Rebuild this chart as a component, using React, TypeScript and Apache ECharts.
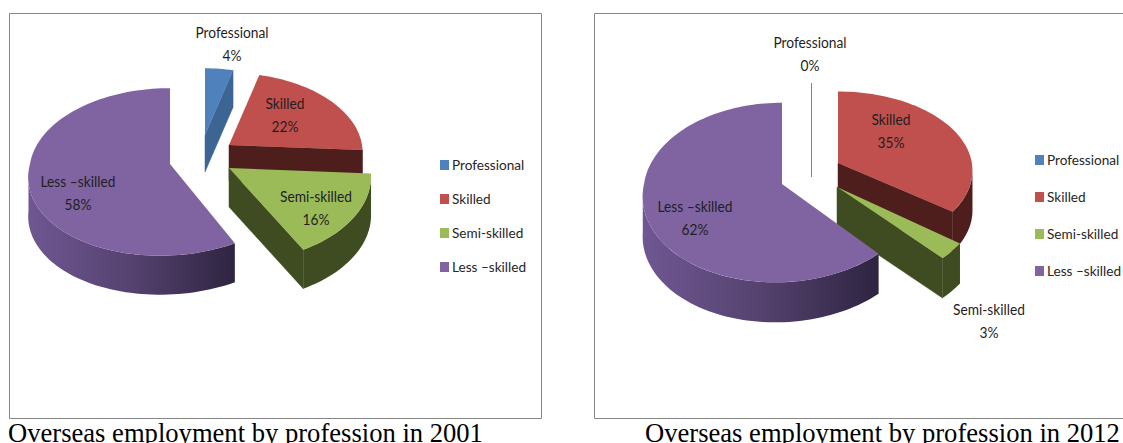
import React, { useEffect, useRef } from "react";
import * as echarts from "echarts";

const categories = ["Professional", "Skilled", "Semi-skilled", "Less –skilled"];
const values2001 = [4, 22, 16, 58];
const values2012 = [0, 35, 3, 62];
const caption2001 = "Overseas employment by profession in 2001";
const caption2012 = "Overseas employment by profession in 2012";

const topColors = ["#4f81bd", "#c0504d", "#9bbb59", "#8064a2"];
const wallColors = ["#3d6594", "#4d1e1c", "#3f4c22", "#8064a2"];
const drawOrder = [1, 2, 3, 0];
const labelFont = "Lato";

const K = 0.095;
const SILHOUETTE = (Math.acos(-K) * 180) / Math.PI;

type SliceLayout = { ax: number; ay: number; s: number; sy: number; depth: number; skew: number; lx: number; ly: number };
type Panel = { R: number; b: number; values: number[]; slices: SliceLayout[] };

const panels: Panel[] = [
  {
    R: 140, b: 83, values: values2001,
    slices: [
      { ax: 205, ay: 135, s: 0.88, sy: 0.88, depth: 37, skew: 0, lx: 232, ly: 32 },
      { ax: 229, ay: 145, s: 0.95, sy: 0.95, depth: 36, skew: 0, lx: 285, ly: 103 },
      { ax: 229, ay: 168, s: 1.01, sy: 1.03, depth: 39, skew: 0, lx: 316, ly: 196 },
      { ax: 170, ay: 164, s: 1, sy: 1, depth: 39, skew: 0.11, lx: 78, ly: 181 },
    ],
  },
  {
    R: 138, b: 89, values: values2012,
    slices: [
      { ax: 811.5, ay: 140, s: 0.7, sy: 0.7, depth: 37, skew: 0, lx: 810, ly: 42 },
      { ax: 838, ay: 163, s: 0.97, sy: 0.88, depth: 40, skew: 0, lx: 891, ly: 119 },
      { ax: 837, ay: 187, s: 1.04, sy: 1.02, depth: 40, skew: 0, lx: 989, ly: 309 },
      { ax: 782, ay: 184, s: 1, sy: 1, depth: 40, skew: 0.07, lx: 695, ly: 206 },
    ],
  },
];

const rim = (p: Panel, l: SliceLayout, deg: number, dy = 0): number[] => {
  const t = (deg * Math.PI) / 180;
  const w = 1 + K * Math.cos(t);
  const yy = -(l.sy * p.b * Math.cos(t)) / w;
  return [l.ax + (l.s * p.R * Math.sin(t)) / w - l.skew * Math.max(0, yy), l.ay + yy + dy];
};

const arc = (p: Panel, l: SliceLayout, a: number, b: number, dy = 0): number[][] => {
  const out: number[][] = [];
  const n = Math.max(1, Math.ceil(Math.abs(b - a) / 2));
  for (let i = 0; i <= n; i++) out.push(rim(p, l, a + ((b - a) * i) / n, dy));
  return out;
};

const makeSeries = (p: Panel, idx: number, order: number) => ({
  type: "custom",
  name: categories[idx],
  coordinateSystem: "none",
  silent: true,
  z: 2 + order,
  clip: false,
  itemStyle: { color: topColors[idx] },
  data: [[p.values[idx]]],
  renderItem: (_: any, api: any) => {
    const value = api.value(0) as number;
    const total = p.values.reduce((a, v) => a + v, 0);
    const before = p.values.slice(0, idx).reduce((a, v) => a + v, 0);
    const start = (before / total) * 360;
    const end = start + (value / total) * 360;
    const l = p.slices[idx];
    const children: any[] = [];
    const apex = [l.ax, l.ay];
    const apexLow = [l.ax, l.ay + l.depth];
    const wall = wallColors[idx];
    // cut face on the clockwise edge, when it faces the viewer
    if (end <= 180) {
      const rt = rim(p, l, end);
      const rb = rim(p, l, end, l.depth);
      children.push({
        type: "polygon",
        shape: { points: [apex, apexLow, rb, rt] },
        style: { fill: wall, stroke: value === 0 ? "#5f8cc4" : wall, lineWidth: value === 0 ? 1 : 0.5 },
      });
    }
    // curved outer wall
    const a0 = Math.max(start, SILHOUETTE);
    const a1 = Math.min(end, 360 - SILHOUETTE);
    if (a1 > a0) {
      const pts = [...arc(p, l, a0, a1), ...arc(p, l, a1, a0, l.depth)];
      const fill =
        idx === 3
          ? new echarts.graphic.LinearGradient(0, 0, 1, 0, [
              { offset: 0, color: "#6f5792" },
              { offset: 0.5, color: "#55426f" },
              { offset: 1, color: "#2e2440" },
            ])
          : wall;
      children.push({ type: "polygon", shape: { points: pts }, style: { fill } });
    }
    // top surface
    if (value > 0) {
      children.push({
        type: "polygon",
        shape: { points: [apex, ...arc(p, l, start, end)] },
        style: { fill: topColors[idx] },
      });
    }
    [categories[idx], `${value}%`].forEach((t, i) => {
      children.push({
        type: "text",
        x: l.lx,
        y: l.ly + i * 23,
        scaleX: 0.86,
        style: {
          text: t,
          fontFamily: labelFont,
          fontSize: 16,
          fill: "#1f1f1f",
          align: "center",
          verticalAlign: "middle",
        },
      });
    });
    return { type: "group", children };
  },
});

const legendBase = (left: number, top: number, gap: number) => ({
  data: categories,
  orient: "vertical",
  left,
  top,
  icon: "rect",
  itemWidth: 9,
  itemHeight: 10,
  itemGap: gap,
  padding: 0,
  selectedMode: false,
  textStyle: { fontFamily: labelFont, fontSize: 13.6, lineHeight: 14, color: "#262626", padding: [0, 0, 0, -2] },
});

const frame = (x: number, w: number) => ({
  type: "rect",
  shape: { x: x + 0.5, y: 13.5, width: w, height: 405 },
  style: { fill: "#fff", stroke: "#868686", lineWidth: 1 },
  z: 0,
});

const caption = (x: number, text: string) => ({
  type: "text",
  x,
  y: 433,
  style: {
    text,
    fontFamily: "Liberation Serif",
    fontSize: 26.6,
    fill: "#000",
    align: "left",
    verticalAlign: "middle",
  },
  z: 1,
});

export default function App() {
  const ref = useRef<HTMLDivElement>(null);
  useEffect(() => {
    const chart = echarts.init(ref.current!, undefined, { renderer: "svg" });
    chart.setOption({
      animation: false,
      backgroundColor: "#fff",
      legend: [legendBase(440, 158, 20), legendBase(1035, 153, 23)],
      graphic: {
        elements: [
          frame(9, 532),
          frame(594, 560),
          caption(8, caption2001),
          caption(645, caption2012),
        ],
      },
      series: panels.flatMap((p) => drawOrder.map((idx, order) => makeSeries(p, idx, order))),
    });
    return () => chart.dispose();
  }, []);
  return (
    <div
      ref={ref}
      style={{ position: "fixed", left: 0, top: 0, width: 1123, height: 443, overflow: "hidden" }}
    />
  );
}
